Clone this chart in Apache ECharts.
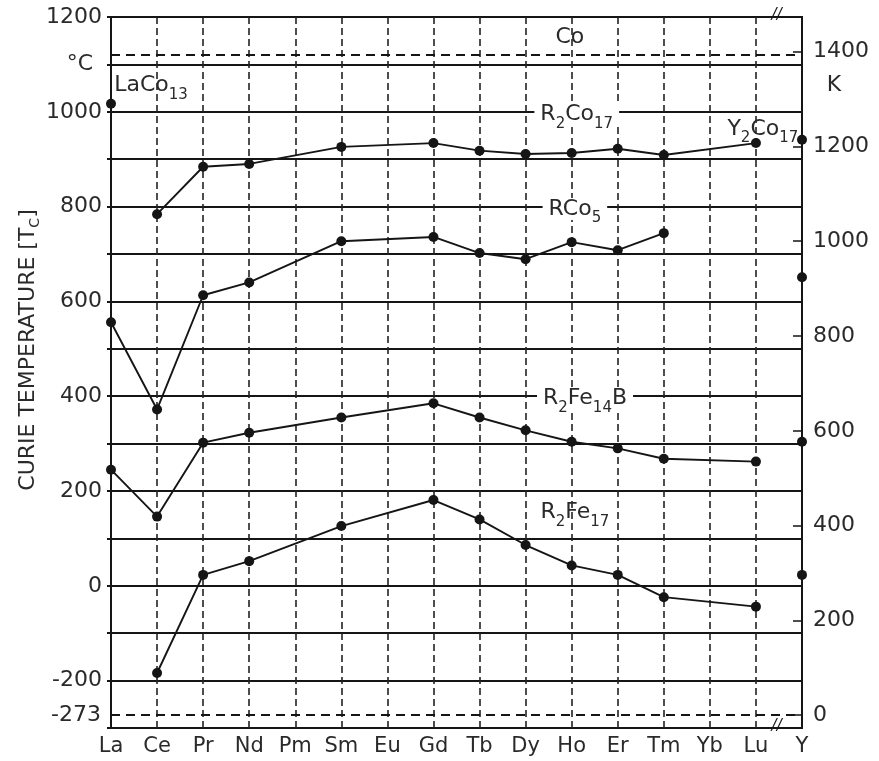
<!DOCTYPE html>
<html>
<head>
<meta charset="utf-8">
<script src="https://cdn.jsdelivr.net/npm/echarts@6/dist/echarts.min.js"></script>
<style>
  html, body { margin: 0; padding: 0; background: #fff; }
  #main { width: 879px; height: 761px; }
</style>
</head>
<body>
<div id="main"></div>
<script>
// rare earth elements on the x axis
var elements = ['La', 'Ce', 'Pr', 'Nd', 'Pm', 'Sm', 'Eu', 'Gd', 'Tb', 'Dy', 'Ho', 'Er', 'Tm', 'Yb', 'Lu', 'Y'];

// Curie temperatures in °C (null = no point)
var r2co17  = [null, 784, 884, 890, null, 926, null, 934, 918, 911, 913, 922, 909, null, 934, null];
var rco5    = [556, 372, 613, 640, null, 727, null, 736, 702, 689, 725, 708, 744, null, null, null];
var r2fe14b = [245, 146, 302, 323, null, 355, null, 385, 355, 328, 304, 290, 268, null, 262, null];
var r2fe17  = [null, -184, 23, 52, null, 126, null, 181, 140, 86, 43, 23, -24, null, -44, null];

// single points: LaCo13 and the yttrium compounds
var singlePts = [[0, 1017], [15, 941], [15, 651], [15, 304], [15, 23]];

var coTc = 1121;      // Co
var absZero = -273;
var leftLabels = [-200, 0, 200, 400, 600, 800, 1000, 1200];
var rightLabels = [0, 200, 400, 600, 800, 1000, 1200, 1400];

var txt = '#2a2a2a';
var ink = '#151515';
var font = 'DejaVu Sans';

function lineSeries(name, data) {
  return {
    name: name,
    type: 'line',
    data: data,
    connectNulls: true,
    symbol: 'circle',
    symbolSize: 10,
    itemStyle: { color: ink, opacity: 1 },
    lineStyle: { color: ink, width: 1.9 },
    z: 5
  };
}

function plain(v) { return String(v); }

var series = [
  lineSeries('R2Co17', r2co17),
  lineSeries('RCo5', rco5),
  lineSeries('R2Fe14B', r2fe14b),
  lineSeries('R2Fe17', r2fe17),
  {
    type: 'scatter',
    data: singlePts,
    symbol: 'circle',
    symbolSize: 10,
    itemStyle: { color: ink, opacity: 1 },
    clip: false,
    z: 6,
    markLine: {
      silent: true,
      symbol: 'none',
      lineStyle: { color: ink, type: [9, 6], width: 2 },
      data: [
        { yAxis: coTc, label: { show: false } },
        { yAxis: absZero, label: { show: true, position: 'start', distance: 10, formatter: '-273',
          fontFamily: font, fontSize: 22, color: txt } }
      ]
    }
  }
];

var chart = echarts.init(document.getElementById('main'));

var option = {
  backgroundColor: '#fff',
  animation: false,
  grid: { left: 111, right: 77, top: 17, bottom: 33, show: true, borderColor: ink, borderWidth: 2, backgroundColor: 'transparent' },
  xAxis: {
    type: 'category',
    data: elements,
    boundaryGap: false,
    axisLine: { show: true, lineStyle: { color: ink, width: 2 } },
    axisTick: { show: false },
    axisLabel: { fontFamily: font, fontSize: 21, color: txt, margin: 8 },
    splitLine: { show: true, lineStyle: { color: '#222', width: 1.6, type: [7, 4] } }
  },
  yAxis: [
    {
      type: 'value',
      min: -300,
      max: 1200,
      interval: 100,
      axisLine: { show: true, lineStyle: { color: ink, width: 2 } },
      axisTick: { show: true, length: 4, lineStyle: { color: ink, width: 2 } },
      axisLabel: { customValues: leftLabels, formatter: plain, fontFamily: font, fontSize: 22, color: txt, margin: 9 },
      splitLine: { show: true, lineStyle: { color: ink, width: 2.2 } }
    },
    {
      type: 'value',
      position: 'right',
      min: -300 - absZero,
      max: 1200 - absZero,
      axisLine: { show: true, lineStyle: { color: ink, width: 2 } },
      axisTick: { show: true, inside: true, length: 9, customValues: rightLabels, lineStyle: { color: ink, width: 1.5 } },
      axisLabel: { customValues: rightLabels, formatter: plain, fontFamily: font, fontSize: 22, color: txt, margin: 11 },
      splitLine: { show: false }
    }
  ],
  series: series
};

chart.setOption(option);

// text annotations placed in data coordinates (fractional category index, °C)
var notes = [
  { text: 'Co', ci: 9.96, v: 1157, align: 'center' },
  { text: 'LaCo{s|13}', ci: 0.07, v: 1055, align: 'left' },
  { text: 'R{s|2}Co{s|17}', ci: 10.11, v: 995, align: 'center', bg: true },
  { text: 'Y{s|2}Co{s|17}', ci: 14.15, v: 964, align: 'center' },
  { text: 'RCo{s|5}', ci: 10.07, v: 795, align: 'center', bg: true },
  { text: 'R{s|2}Fe{s|14}B', ci: 10.29, v: 395, align: 'center', bg: true },
  { text: 'R{s|2}Fe{s|17}', ci: 10.07, v: 155, align: 'center' }
];

function toPx(ci, v) {
  var a = chart.convertToPixel({ xAxisIndex: 0, yAxisIndex: 0 }, [0, v]);
  var b = chart.convertToPixel({ xAxisIndex: 0, yAxisIndex: 0 }, [elements.length - 1, v]);
  var x = a[0] + (b[0] - a[0]) * ci / (elements.length - 1);
  return [x, a[1]];
}

var rich = {
  s: { fontFamily: font, fontSize: 15, color: txt, padding: [13, 0, 0, 0], verticalAlign: 'top', lineHeight: 15 }
};

var graphics = notes.map(function (n) {
  var p = toPx(n.ci, n.v);
  var st = {
    text: n.text,
    x: p[0],
    y: p[1],
    fontFamily: font,
    fontSize: 22,
    fill: txt,
    align: n.align,
    verticalAlign: 'middle',
    rich: rich
  };
  if (n.bg) { st.backgroundColor = '#fff'; st.padding = [0, 6]; }
  return { type: 'text', z: 10, style: st };
});

var area = chart.getModel().getComponent('grid').coordinateSystem.getRect();
var breakX = toPx(14.45, 0)[0];

graphics.push(
  { type: 'text', z: 10, style: { text: '°C', x: 80, y: toPx(0, 1100)[1], fontFamily: font, fontSize: 22, fill: txt, align: 'center', verticalAlign: 'middle' } },
  { type: 'text', z: 10, style: { text: 'K', x: area.x + area.width + 32, y: toPx(0, 1055)[1], fontFamily: font, fontSize: 22, fill: txt, align: 'center', verticalAlign: 'middle' } },
  { type: 'text', z: 10, style: { text: '//', x: breakX, y: area.y - 2, fontFamily: font, fontSize: 15, fontStyle: 'italic', fill: ink, align: 'center', verticalAlign: 'middle' } },
  { type: 'text', z: 10, style: { text: '//', x: breakX, y: area.y + area.height - 2, fontFamily: font, fontSize: 15, fontStyle: 'italic', fill: ink, align: 'center', verticalAlign: 'middle' } },
  {
    type: 'text', z: 10, rotation: Math.PI / 2,
    x: 28, y: 350,
    style: {
      text: 'CURIE TEMPERATURE [T{s2|C}]',
      fontFamily: font, fontSize: 22, fill: txt, align: 'center', verticalAlign: 'middle',
      rich: { s2: { fontFamily: font, fontSize: 14, color: txt, padding: [11, 0, 0, 0], verticalAlign: 'top', lineHeight: 14 } }
    }
  }
);

chart.setOption({ graphic: graphics });
</script>
</body>
</html>
